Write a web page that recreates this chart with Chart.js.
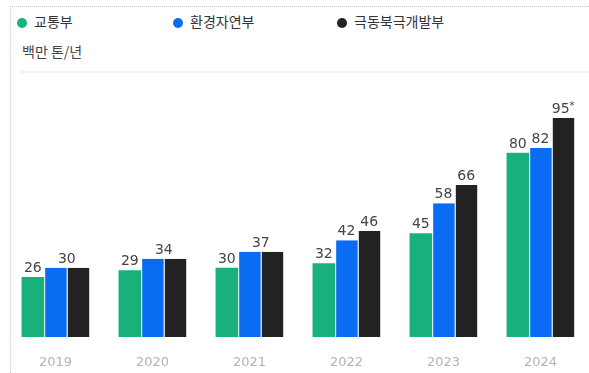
<!DOCTYPE html>
<html>
<head>
<meta charset="utf-8">
<script src="https://cdn.jsdelivr.net/npm/chart.js@4/dist/chart.umd.min.js"></script>
<style>
  html, body { margin: 0; padding: 0; background: #fff; }
  #wrap { position: relative; width: 589px; height: 373px; overflow: hidden; }
  #frame { position: absolute; left: 10px; top: 6px; right: -2px; bottom: -2px;
           border-top: 1px dotted #c8c8c8; border-left: 1px dotted #c8c8c8; }
  .legend { position: absolute; top: 11px; font: 14px "Noto Sans CJK KR", sans-serif; color: #333; white-space: nowrap; }
  .legend i { display: inline-block; width: 10px; height: 10px; border-radius: 50%; margin-right: 7px; vertical-align: -1px; }
  #unit { position: absolute; left: 22px; top: 41px; font: 14px "Noto Sans CJK KR", sans-serif; color: #444; }
  canvas { position: absolute; left: 0; top: 0; }
</style>
</head>
<body>
<div id="wrap">
  <div id="frame"></div>
  <div id="legend"></div>
  <div id="unit">백만 톤/년</div>
  <canvas id="chart" width="589" height="373"></canvas>
</div>
<script>
// categories and series
const years = ['2019', '2020', '2021', '2022', '2023', '2024'];
const seriesNames = ['교통부', '환경자연부', '극동북극개발부'];
const transport = [26, 29, 30, 32, 45, 80];
const environment = [30, 34, 37, 42, 58, 82];
const farEast = [30, 34, 37, 46, 66, 95];
const farEastNotes = ['', '', '', '', '', '*'];
const colors = ['#19b17b', '#0a6cf2', '#222222'];
const legendX = [17, 173, 337];

// legend as html, spaced like the original
const legendBox = document.getElementById('legend');
seriesNames.forEach((name, i) => {
  const el = document.createElement('div');
  el.className = 'legend';
  el.style.left = legendX[i] + 'px';
  el.innerHTML = '<i style="background:' + colors[i] + '"></i>' + name;
  legendBox.appendChild(el);
});

const LABEL_FONT = '14px "DejaVu Sans", sans-serif';

function drawLabel(ctx, value, note, x, y) {
  ctx.font = LABEL_FONT;
  const txt = String(value);
  if (!note) { ctx.fillText(txt, x, y); return; }
  // small raised asterisk after the number
  ctx.font = LABEL_FONT;
  const w = ctx.measureText(txt).width;
  ctx.font = '10px "DejaVu Sans", sans-serif';
  const wn = ctx.measureText(note).width;
  const left = x - (w + wn) / 2;
  ctx.textAlign = 'left';
  ctx.font = LABEL_FONT;
  ctx.fillText(txt, left, y);
  ctx.font = '10px "DejaVu Sans", sans-serif';
  ctx.fillText(note, left + w, y - 4);
  ctx.textAlign = 'center';
}

// value labels above bars; blue and black share one label when equal
const valueLabels = {
  id: 'valueLabels',
  afterDatasetsDraw(chart) {
    const ctx = chart.ctx;
    ctx.save();
    ctx.fillStyle = '#444';
    ctx.textAlign = 'center';
    ctx.textBaseline = 'alphabetic';
    const m = [0, 1, 2].map(i => chart.getDatasetMeta(i).data);
    years.forEach((y, j) => {
      const g = m[0][j], b = m[1][j], k = m[2][j];
      drawLabel(ctx, transport[j], '', g.x, g.y - 5);
      if (environment[j] === farEast[j]) {
        drawLabel(ctx, farEast[j], farEastNotes[j], (b.x + k.x) / 2, k.y - 5);
      } else {
        drawLabel(ctx, environment[j], '', b.x, b.y - 5);
        drawLabel(ctx, farEast[j], farEastNotes[j], k.x, k.y - 5);
      }
    });
    ctx.restore();
  }
};

// light rule at the top of the plot
const topRule = {
  id: 'topRule',
  beforeDatasetsDraw(chart) {
    const ctx = chart.ctx;
    const y = chart.scales.y.getPixelForValue(chart.scales.y.max);
    ctx.save();
    ctx.strokeStyle = '#f0f0f0';
    ctx.lineWidth = 2;
    ctx.beginPath();
    ctx.moveTo(20, y);
    ctx.lineTo(chart.width, y);
    ctx.stroke();
    ctx.restore();
  }
};

const datasets = [transport, environment, farEast].map((d, i) => ({
  label: seriesNames[i],
  data: d,
  backgroundColor: colors[i],
  borderColor: '#ffffff',
  borderWidth: { left: i === 0 ? 0 : 1, right: 0, top: 0, bottom: 0 },
  borderSkipped: false,
  categoryPercentage: 0.7,
  barPercentage: 1.0
}));

new Chart(document.getElementById('chart'), {
  type: 'bar',
  data: { labels: years, datasets: datasets },
  options: {
    responsive: false,
    animation: false,
    layout: { padding: { top: 72, left: 7, right: 0, bottom: 0 } },
    plugins: { legend: { display: false }, tooltip: { enabled: false } },
    scales: {
      x: {
        grid: { display: false, drawTicks: false },
        border: { display: false },
        ticks: { color: '#b3b3b3', font: { size: 13, family: '"DejaVu Sans", sans-serif' }, padding: 18 },
        afterFit: s => { s.height = 36; }
      },
      y: { display: false, min: 0, max: 115 }
    }
  },
  plugins: [valueLabels, topRule]
});
</script>
</body>
</html>
